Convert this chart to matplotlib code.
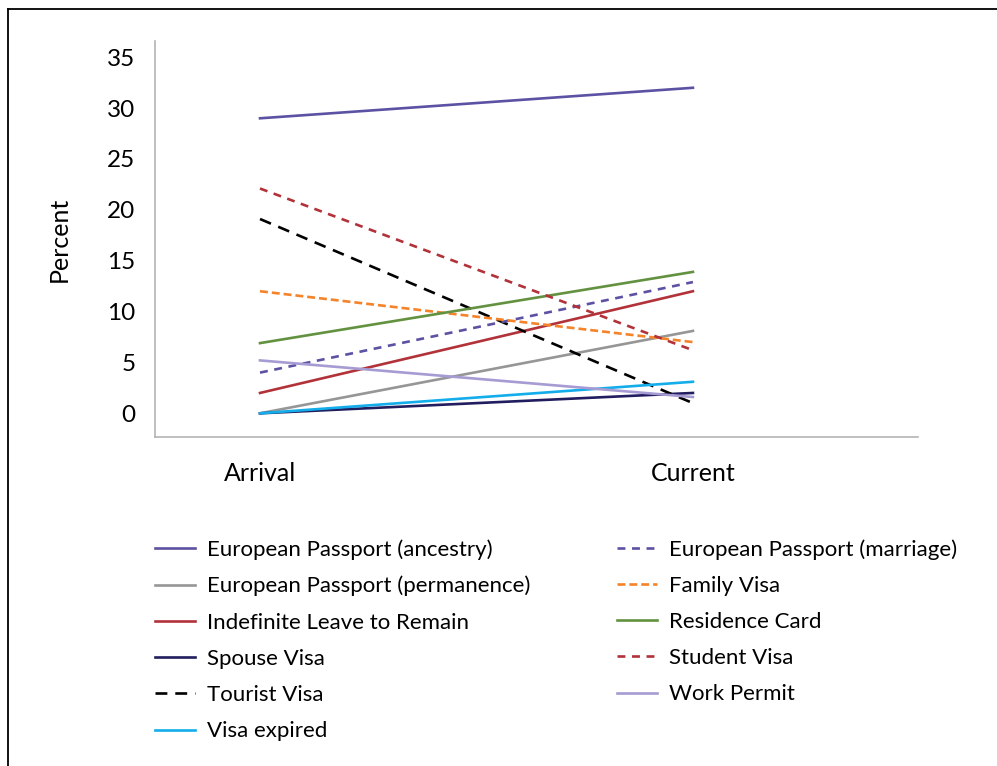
import matplotlib
matplotlib.use("Agg")
import matplotlib.pyplot as plt
from matplotlib.lines import Line2D

plt.rcParams['font.family'] = ['Lato', 'DejaVu Sans']

# data
periods = ["Arrival", "Current"]
ep_ancestry = [29.0, 32.0]
ep_permanence = [0.0, 8.1]
indefinite_leave = [2.0, 12.0]
spouse_visa = [0.0, 2.0]
tourist_visa = [19.1, 1.0]
visa_expired = [0.0, 3.1]
ep_marriage = [4.0, 12.9]
family_visa = [12.0, 7.0]
residence_card = [6.9, 13.9]
student_visa = [22.1, 6.2]
work_permit = [5.2, 1.6]

# (label, values, colour, linestyle)
left_col = [
    ("European Passport (ancestry)", ep_ancestry, '#5b52a3', '-'),
    ("European Passport (permanence)", ep_permanence, '#969696', '-'),
    ("Indefinite Leave to Remain", indefinite_leave, '#b2323a', '-'),
    ("Spouse Visa", spouse_visa, '#211d5e', '-'),
    ("Tourist Visa", tourist_visa, '#000000', (0, (4.5, 3))),
    ("Visa expired", visa_expired, '#12adea', '-'),
]
right_col = [
    ("European Passport (marriage)", ep_marriage, '#5b52a3', (0, (3, 2.5))),
    ("Family Visa", family_visa, '#f5832a', (0, (3, 1.5))),
    ("Residence Card", residence_card, '#62913f', '-'),
    ("Student Visa", student_visa, '#b2323a', (0, (3, 2.5))),
    ("Work Permit", work_permit, '#a69bd2', '-'),
]

fig = plt.figure(figsize=(9.97, 7.66), dpi=100)
ax = fig.add_axes([0.1555, 0.4295, 0.7653, 0.517])

x = [0, 1]
h_left = []
h_right = []
for lab, vals, col, ls in left_col:
    ln, = ax.plot(x, vals, color=col, linestyle=ls, linewidth=1.9, label=lab)
    h_left.append(ln)
for lab, vals, col, ls in right_col:
    ln, = ax.plot(x, vals, color=col, linestyle=ls, linewidth=1.9, label=lab)
    h_right.append(ln)

ax.set_xlim(-0.2425, 1.52)
ax.set_ylim(-2.33, 36.6)
ax.set_yticks(range(0, 36, 5))
ax.set_xticks(x)
ax.set_xticklabels(periods)
ax.tick_params(axis='y', length=0, pad=14, labelsize=17.5)
ax.tick_params(axis='x', length=0, pad=18, labelsize=18)
for s in ['top', 'right']:
    ax.spines[s].set_visible(False)
for s in ['left', 'bottom']:
    ax.spines[s].set_color('#b4b4b4')
    ax.spines[s].set_linewidth(1.2)

ax.set_ylabel("Percent", fontsize=18)
ax.yaxis.set_label_coords(-0.111, 0.5)

leg_kw = dict(frameon=False, fontsize=16, handlelength=1.8, handletextpad=0.52,
              labelspacing=0.73, borderpad=0, borderaxespad=0)
leg1 = fig.legend(handles=h_left, loc='upper left',
                  bbox_to_anchor=(155 / 997, 1 - 539 / 766), **leg_kw)
leg2 = fig.legend(handles=h_right, loc='upper left',
                  bbox_to_anchor=(617 / 997, 1 - 539 / 766), **leg_kw)

# frame around the chart
fig.add_artist(Line2D([8 / 997, 8 / 997], [0, 1 - 9 / 766], color='black',
                      linewidth=1.3, transform=fig.transFigure))
fig.add_artist(Line2D([8 / 997, 1], [1 - 9 / 766, 1 - 9 / 766], color='black',
                      linewidth=1.3, transform=fig.transFigure))

plt.savefig("out.png", dpi=100)
